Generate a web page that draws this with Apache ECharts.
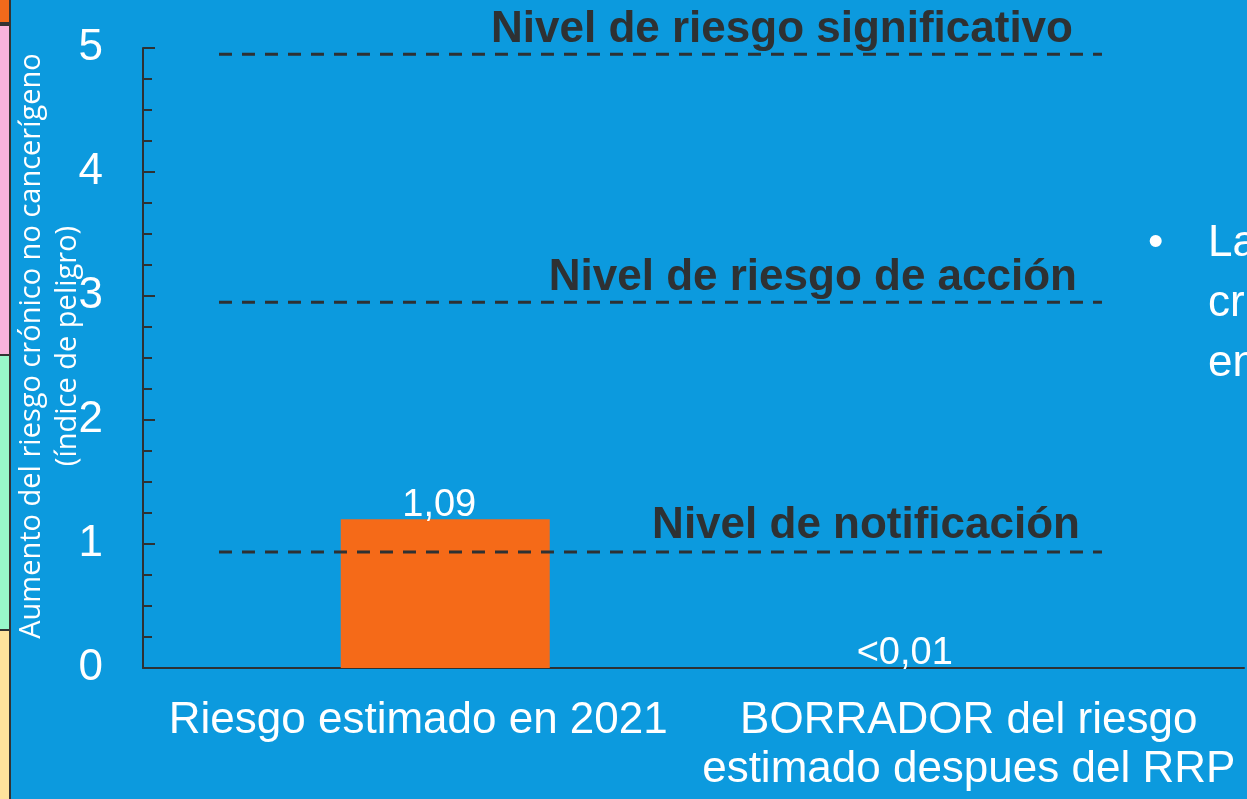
<!DOCTYPE html>
<html>
<head>
<meta charset="utf-8">
<script src="https://cdn.jsdelivr.net/npm/echarts@6/dist/echarts.min.js"></script>
<style>
  html, body { margin: 0; padding: 0; background: #0c9ade; }
  #chart { width: 1247px; height: 799px; }
</style>
</head>
<body>
<div id="chart"></div>
<script>
// data
const categories = ['Riesgo estimado en 2021', 'BORRADOR del riesgo\nestimado despues del RRP']
const barValues = [1.2, 0.005]
const barLabels = ['1,09', '<0,01']
const levelNames = ['Nivel de riesgo significativo', 'Nivel de riesgo de acción', 'Nivel de notificación']
const levelValues = [4.95, 2.95, 0.935]
const levelSpan = [0.069, 0.871] // start / end along the plot width
const yTicks = [0, 1, 2, 3, 4, 5]
const yAxisTitle = 'Aumento del riesgo crónico no cancerígeno\n(índice de peligro)'
const sideText = ['La', 'cr', 'en']

// label nudges (styling only)
const levelLabelOffsets = [[-29, 2], [-25, 2], [-22, 0]]
const barLabelOffsets = [[-6, 6], [-91, 6]]

const chart = echarts.init(document.getElementById('chart'))

const axisColor = '#2e3133'
const fontFamily = '"Liberation Sans", Arial, sans-serif'

const levelSeries = levelNames.map((name, i) => ({
    name: name,
    type: 'line',
    xAxisIndex: 2,
    yAxisIndex: 0,
    symbol: 'circle',
    symbolSize: 1,
    showSymbol: true,
    silent: true,
    itemStyle: { color: 'rgba(0,0,0,0)' },
    lineStyle: { color: axisColor, width: 3, type: [13, 10] },
    data: [
        [levelSpan[0], levelValues[i]],
        {
            value: [levelSpan[1], levelValues[i]],
            label: {
                show: true,
                position: 'top',
                align: 'right',
                distance: 4,
                offset: levelLabelOffsets[i],
                formatter: name,
                color: axisColor,
                fontSize: 44,
                fontWeight: 'bold',
                fontFamily: fontFamily
            }
        }
    ]
}))

const option = {
    backgroundColor: '#0c9ade',
    animation: false,
    grid: [
        { left: 143, right: 3, top: 48, bottom: 131, outerBoundsMode: 'none' },
        // bars sit a little right of their category centre
        { left: 170, right: -24, top: 48, bottom: 131, outerBoundsMode: 'none' }
    ],
    xAxis: [
        {
            type: 'category',
            gridIndex: 0,
            data: categories,
            axisLine: { lineStyle: { color: axisColor, width: 2 } },
            axisTick: { show: false },
            axisLabel: {
                color: '#fff',
                fontSize: 44,
                lineHeight: 49,
                margin: 28,
                fontFamily: fontFamily,
                interval: 0
            }
        },
        {
            type: 'category',
            gridIndex: 1,
            data: categories,
            show: false
        },
        {
            type: 'value',
            gridIndex: 0,
            min: 0,
            max: 1,
            show: false
        }
    ],
    yAxis: [
        {
            type: 'value',
            gridIndex: 0,
            min: 0,
            max: 5,
            interval: 1,
            name: yAxisTitle,
            nameLocation: 'middle',
            nameRotate: 90,
            nameGap: 57,
            nameMoveOverlap: false,
            nameTextStyle: {
                color: '#fff',
                fontSize: 29,
                lineHeight: 36,
                padding: [0, 0, 0, 24],
                fontFamily: '"Open Sans", sans-serif'
            },
            axisLine: { show: true, lineStyle: { color: axisColor, width: 2 } },
            axisTick: { show: true, inside: true, length: 12, lineStyle: { color: axisColor, width: 2 } },
            minorTick: { show: true, splitNumber: 4, length: 9, lineStyle: { color: axisColor, width: 2 } },
            splitLine: { show: false },
            axisLabel: {
                color: '#fff',
                fontSize: 44,
                margin: 40,
                fontFamily: fontFamily,
                formatter: v => yTicks.includes(v) ? String(v) : ''
            }
        },
        {
            type: 'value',
            gridIndex: 1,
            min: 0,
            max: 5,
            show: false
        }
    ],
    series: [
        {
            name: 'Riesgo',
            type: 'bar',
            xAxisIndex: 1,
            yAxisIndex: 1,
            barWidth: 209,
            itemStyle: { color: '#f56a18' },
            label: {
                show: true,
                position: 'top',
                distance: 1,
                color: '#fff',
                fontSize: 38,
                fontFamily: fontFamily,
                formatter: p => barLabels[p.dataIndex]
            },
            data: barValues.map((v, i) => ({
                value: v,
                itemStyle: i === 1 ? { color: 'rgba(0,0,0,0)' } : undefined,
                label: { offset: barLabelOffsets[i] }
            }))
        },
        ...levelSeries
    ],
    graphic: [
        // coloured strip on the left edge
        { type: 'rect', shape: { x: 0, y: 0, width: 9, height: 22 }, style: { fill: '#f26a1b' } },
        { type: 'rect', shape: { x: 0, y: 22, width: 10, height: 4 }, style: { fill: '#333' } },
        { type: 'rect', shape: { x: 0, y: 26, width: 9, height: 328 }, style: { fill: '#f9b3dc' } },
        { type: 'rect', shape: { x: 0, y: 354, width: 9, height: 2 }, style: { fill: '#333' } },
        { type: 'rect', shape: { x: 0, y: 356, width: 9, height: 273 }, style: { fill: '#98f7c9' } },
        { type: 'rect', shape: { x: 0, y: 629, width: 9, height: 2 }, style: { fill: '#333' } },
        { type: 'rect', shape: { x: 0, y: 631, width: 9, height: 168 }, style: { fill: '#ffe39c' } },
        { type: 'rect', shape: { x: 9, y: 0, width: 2, height: 799 }, style: { fill: '#333' } },
        // cut-off bullet text on the right
        { type: 'text', left: 1148, top: 222, style: { text: '•', fill: '#fff', font: '44px "Liberation Sans", Arial' } },
        ...sideText.map((t, i) => ({
            type: 'text', left: 1208, top: 222 + i * 60,
            style: { text: t, fill: '#fff', font: '44px "Liberation Sans", Arial' }
        }))
    ]
}

chart.setOption(option)
</script>
</body>
</html>
